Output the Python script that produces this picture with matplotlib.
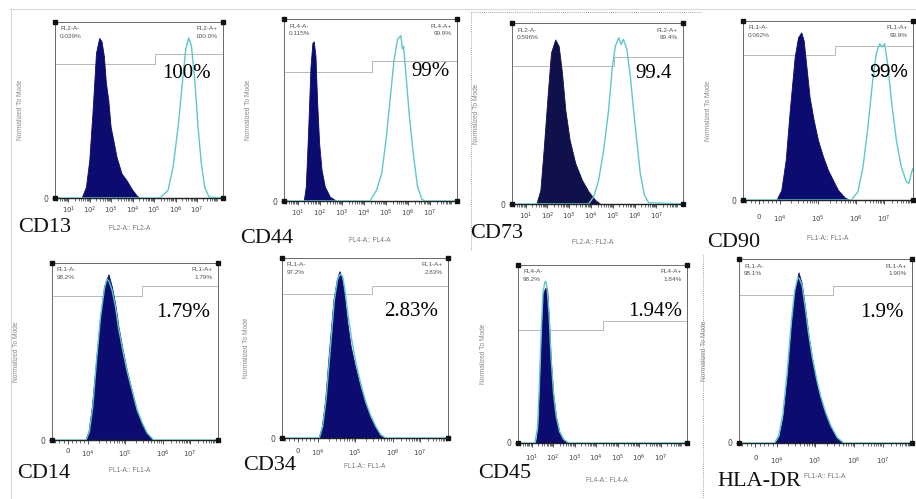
import matplotlib
matplotlib.use('Agg')
import matplotlib.pyplot as plt
from matplotlib.lines import Line2D
import numpy as np

# ---- data (x in display channels 0-1000, y in % of mode)
markers = ['CD13', 'CD44', 'CD73', 'CD90', 'CD14', 'CD34', 'CD45', 'HLA-DR']
big_labels = ['100%', '99%', '99.4', '99%', '1.79%', '2.83%', '1.94%', '1.9%']
channels = ['FL2-A', 'FL4-A', 'FL2-A', 'FL1-A', 'FL1-A', 'FL1-A', 'FL4-A', 'FL1-A']
neg_pct = ['0.029%', '0.115%', '0.596%', '0.062%', '98.2%', '97.2%', '98.2%', '98.1%']
pos_pct = ['100.0%', '99.9%', '99.4%', '99.9%', '1.79%', '2.83%', '1.84%', '1.90%']
scales = ['log', 'log', 'log', 'biex', 'biex', 'biex', 'log', 'biex']

gate_step = [594, 507, 595, 539, 540, 540, 505, 545]
gate_lo = [83.8, 77.7, 84.0, 88.9, 89.7, 88.0, 69.9, 88.7]
gate_hi = [89.7, 84.4, 89.3, 94.5, 95.5, 93.0, 75.5, 94.0]

cd13_iso_x = [158, 184, 204, 224, 244, 263, 277, 291, 303, 317, 331, 347, 366, 396, 426, 455, 485, 505]
cd13_iso_y = [0, 6.9, 23.7, 55, 90.7, 100, 98, 88.6, 71.9, 61.4, 44.6, 36.2, 25.8, 15.3, 11.1, 5.9, 1.7, 0]
cd13_pos_x = [0, 624, 673, 703, 733, 758, 778, 796, 812, 832, 851, 871, 891, 917, 1000]
cd13_pos_y = [0, 0, 4.8, 19.5, 44.6, 71.9, 92.8, 100, 95, 74, 44.6, 21.6, 6.9, 0.6, 0]

cd44_iso_x = [114, 126, 139, 153, 164, 172, 182, 191, 203, 217, 236, 265, 304]
cd44_iso_y = [0, 8.7, 41, 81, 95.5, 96.5, 87.4, 61, 35, 18.8, 8.7, 2.6, 0]
cd44_pos_x = [0, 497, 536, 565, 590, 613, 636, 656, 675, 684, 691, 706, 725, 749, 772, 797, 815, 1000]
cd44_pos_y = [0, 0, 6.7, 16.8, 37, 61, 85, 97.5, 100, 92, 93.5, 75, 51, 27, 8.7, 1, 0, 0]

cd73_iso_x = [142, 166, 185, 209, 228, 253, 273, 292, 312, 337, 370, 409, 448, 487, 517]
cd73_iso_y = [0, 8.5, 33, 67, 92, 100, 96, 80, 57, 39, 24.8, 14.6, 7.5, 2.4, 0]
cd73_pos_x = [0, 448, 478, 507, 536, 565, 585, 604, 624, 638, 652, 672, 692, 711, 731, 750, 774, 799, 1000]
cd73_pos_y = [0, 0, 4.5, 14.6, 33, 57, 81.6, 95.8, 101, 97, 100, 93.8, 77.5, 57, 37, 18.7, 5.5, 0.8, 0]

cd90_iso_x = [196, 225, 251, 275, 304, 324, 343, 357, 373, 392, 416, 441, 471, 500, 529, 559, 598, 627]
cd90_iso_y = [0, 6, 24.5, 55, 88, 100, 103, 98, 82, 63, 49, 36.8, 26.6, 18.4, 12.3, 6.1, 1.6, 0]
cd90_pos_x = [0, 637, 676, 706, 735, 761, 784, 804, 820, 833, 853, 873, 902, 931, 961, 976, 990, 1000]
cd90_pos_y = [0, 0, 5, 20.4, 45, 71.6, 90, 96, 94, 96, 82, 61, 36.8, 20.4, 11.2, 10.2, 16.4, 19.4]

cd14_iso_x = [200, 220, 240, 266, 290, 314, 340, 360, 380, 400, 426, 450, 480, 510, 540, 570, 610]
cd14_iso_y = [0, 5.2, 20.8, 50, 76.8, 95.5, 103, 95.5, 85, 70.6, 56, 43.6, 31, 18.7, 10.4, 4.2, 0]
cd14_pos_x = [0, 205, 225, 245, 268, 292, 316, 330, 342, 362, 382, 402, 428, 452, 482, 512, 542, 572, 612, 1000]
cd14_pos_y = [0, 0, 5, 20, 49, 76, 94, 100, 99, 93, 83, 69, 55, 43, 31, 19, 11, 4.5, 0, 0]

cd34_iso_x = [220, 240, 260, 284, 310, 330, 346, 360, 376, 394, 414, 440, 470, 500, 530, 560, 590, 620]
cd34_iso_y = [0, 7, 23.4, 54, 84.5, 96.8, 101.9, 97.8, 86.6, 70, 56, 43.8, 31.6, 21.4, 13.2, 7.1, 2, 0]
cd34_pos_x = [0, 225, 245, 265, 290, 315, 335, 350, 365, 380, 398, 420, 445, 475, 505, 535, 565, 595, 625, 1000]
cd34_pos_y = [0, 0, 7, 23, 53, 84, 97, 100, 99, 90, 75, 60, 46, 33, 22, 13.5, 7, 2, 0, 0]

cd45_iso_x = [105, 119, 129, 139, 149, 160, 172, 182, 194, 208, 224, 244, 267, 297]
cd45_iso_y = [0, 10.3, 37, 67.8, 92.5, 95.6, 95.6, 78, 51.4, 30.8, 16.4, 7.2, 2.5, 0]
cd45_pos_x = [0, 100, 115, 126, 137, 148, 158, 164, 172, 184, 196, 210, 226, 246, 270, 300, 1000]
cd45_pos_y = [0, 0, 9, 36, 68, 93, 99, 100, 96, 79, 52, 31, 16.5, 7, 2.2, 0, 0]

hla_iso_x = [207, 232, 255, 279, 304, 323, 344, 362, 381, 400, 420, 445, 468, 497, 526, 565, 603]
hla_iso_y = [0, 4, 16, 40, 71.7, 91.7, 102, 95.7, 81.7, 65.8, 51.8, 37.9, 27.9, 17.9, 10, 3, 0]
hla_pos_x = [0, 205, 230, 253, 277, 302, 322, 340, 350, 365, 384, 404, 424, 449, 472, 500, 530, 568, 606, 1000]
hla_pos_y = [0, 0, 4.5, 17, 41, 72, 91, 99, 98, 94, 80, 64, 51, 38, 28, 18.5, 10.5, 3.2, 0, 0]

iso_x = [cd13_iso_x, cd44_iso_x, cd73_iso_x, cd90_iso_x, cd14_iso_x, cd34_iso_x, cd45_iso_x, hla_iso_x]
iso_y = [cd13_iso_y, cd44_iso_y, cd73_iso_y, cd90_iso_y, cd14_iso_y, cd34_iso_y, cd45_iso_y, hla_iso_y]
pos_x = [cd13_pos_x, cd44_pos_x, cd73_pos_x, cd90_pos_x, cd14_pos_x, cd34_pos_x, cd45_pos_x, hla_pos_x]
pos_y = [cd13_pos_y, cd44_pos_y, cd73_pos_y, cd90_pos_y, cd14_pos_y, cd34_pos_y, cd45_pos_y, hla_pos_y]

# ---- layout (pixels: left, top, right, bottom)
W, H = 916, 499
boxes = [(55, 22, 223, 198), (284, 19, 457, 201), (512, 23, 683, 204), (743, 21, 913, 200),
         (52, 263, 218, 440), (282, 258, 448, 438), (518, 265, 687, 443), (739, 259, 912, 443)]
name_pos = [(18, 227), (240, 239), (470, 233), (707, 243), (17, 474), (243, 466), (478, 474), (717, 481)]
xlab_pos = [(130, 228), (370, 240), (593, 243), (828, 238), (130, 470), (365, 467), (607, 480), (825, 477)]
big_pos = [(0.93, 0.707), (0.96, 0.71), (0.936, 0.72), (0.97, 0.71),
           (0.95, 0.72), (0.94, 0.70), (0.97, 0.74), (0.95, 0.71)]
tick_pad = [1.5, 2, 1.5, 7, 3, 4, 4, 6]
fill_colors = ['#0b0b70', '#0b0b70', '#10104a', '#0b0b70', '#0b0b70', '#0b0b70', '#0b0b70', '#0b0b70']
CYAN = '#5cc8c8'
SERIF = 'Liberation Serif'
SANS = 'Liberation Sans'

log_major = [80 + 127.5 * k for k in range(7)]
log_labels = ['$10^{%d}$' % (k + 1) for k in range(7)]
log_minor = [80 + 127.5 * (d + np.log10(m)) for d in range(-1, 7) for m in range(2, 10)]
log_minor = [v for v in log_minor if 0 < v < 1000]

biex_major = [95, 217, 441, 667, 830]
biex_labels = ['0', '$10^4$', '$10^5$', '$10^6$', '$10^7$']
biex_minor = [20, 45, 70, 120, 145, 170, 195]
for a, b in zip(biex_major[1:-1], biex_major[2:]):
    biex_minor += [a + (b - a) * np.log10(m) for m in range(2, 10)]
biex_minor += [830 + 163 * np.log10(m) for m in range(2, 10)]
biex_minor = [v for v in biex_minor if 0 < v < 1000]

fig = plt.figure(figsize=(W / 100, H / 100), dpi=100)
fig.patch.set_facecolor('white')

# outer frame and dotted separators
fig.add_artist(Line2D([10 / W, 1], [1 - 9 / H, 1 - 9 / H], color='#d8d8d8', lw=0.8))
fig.add_artist(Line2D([11 / W, 11 / W], [1 - 9 / H, 0], color='#d8d8d8', lw=0.8))
dot = dict(color='#808080', lw=0.6, ls=(0, (1, 1.5)))
fig.add_artist(Line2D([471 / W, 471 / W], [1 - 12 / H, 1 - 250 / H], **dot))
fig.add_artist(Line2D([471 / W, 702 / W], [1 - 12 / H, 1 - 12 / H], **dot))
fig.add_artist(Line2D([703 / W, 703 / W], [1 - 255 / H, 0], **dot))

for i in range(8):
    l, t, r, b = boxes[i]
    ax = fig.add_axes([l / W, 1 - b / H, (r - l) / W, (b - t) / H])
    ax.set_xlim(0, 1000)
    ax.set_ylim(0, 110)

    ax.fill_between(iso_x[i], iso_y[i], color=fill_colors[i], lw=0.6, zorder=2)
    ax.plot(pos_x[i], pos_y[i], color=CYAN, lw=1.0, zorder=3)

    # gate marker
    ax.plot([0, gate_step[i], gate_step[i], 1000],
            [gate_lo[i], gate_lo[i], gate_hi[i], gate_hi[i]],
            color='#b8b8b8', lw=0.7, zorder=1)

    # gate texts
    txt = dict(fontsize=4.6, color='#555555', family=SANS, va='top', linespacing=1.6)
    ax.text(0.03, 0.975, channels[i] + '-\n' + neg_pct[i], transform=ax.transAxes, ha='left', **txt)
    ax.text(0.97, 0.975, channels[i] + '+\n' + pos_pct[i], transform=ax.transAxes, ha='right', **txt)

    fam = SANS if markers[i] == 'CD90' else SERIF
    ax.text(big_pos[i][0], big_pos[i][1], big_labels[i], transform=ax.transAxes,
            ha='right', va='center', fontsize=15 if fam == SERIF else 14, family=fam,
            color='black', zorder=5)

    if scales[i] == 'log':
        ax.set_xticks(log_major)
        ax.set_xticklabels(log_labels)
        ax.set_xticks(log_minor, minor=True)
    else:
        ax.set_xticks(biex_major)
        ax.set_xticklabels(biex_labels)
        ax.set_xticks(biex_minor, minor=True)
    ax.tick_params(axis='x', which='major', length=3, width=0.6, color='#333333',
                   labelsize=5, labelcolor='#444444', pad=tick_pad[i], direction='out')
    ax.tick_params(axis='x', which='minor', length=1.8, width=0.5, color='#333333', direction='out')
    ax.set_yticks([0])
    ax.set_yticklabels(['0'])
    ax.tick_params(axis='y', length=2, width=0.6, labelsize=5.5, labelcolor='#444444', pad=3)

    for s in ['top', 'left', 'right']:
        ax.spines[s].set_color('#6a6a6a')
        ax.spines[s].set_linewidth(0.7)
    ax.spines['bottom'].set_color('#222222')
    ax.spines['bottom'].set_linewidth(1.0)

    # corner markers of the plot frame
    ax.plot([0, 1, 0, 1], [0, 0, 1, 1], 's', ms=2.2, color='#111111',
            transform=ax.transAxes, clip_on=False, zorder=6)

    # axis captions
    fig.text((l - 35) / W, 1 - ((t + b) / 2) / H, 'Normalized To Mode', rotation=90,
             ha='center', va='center', fontsize=4.8, color='#8a8a8a', family=SANS)
    nx, ny = xlab_pos[i]
    fig.text(nx / W, 1 - ny / H, channels[i] + ':: ' + channels[i], ha='center', va='center',
             fontsize=4.8, color='#777777', family=SANS)
    px, py = name_pos[i]
    fig.text(px / W, 1 - py / H, markers[i], ha='left', va='center', fontsize=16,
             family=SERIF, color='#111111')

fig.savefig('out.png', dpi=100, facecolor='white')
